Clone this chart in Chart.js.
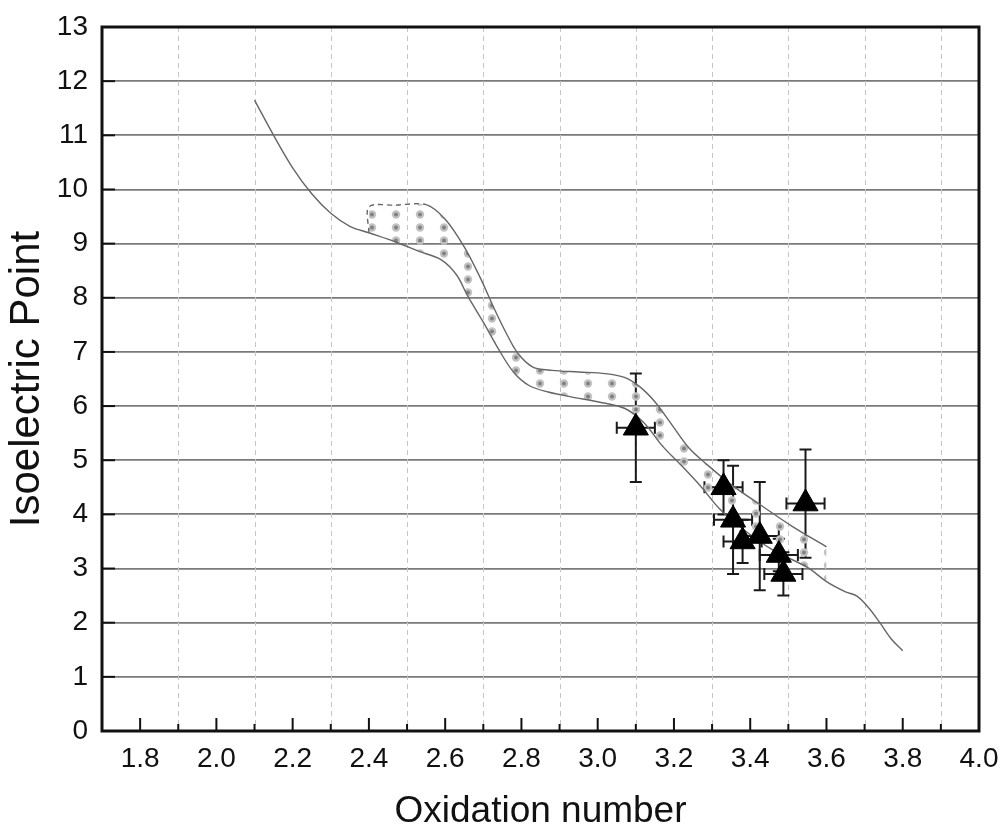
<!DOCTYPE html>
<html>
<head>
<meta charset="utf-8">
<script src="https://cdn.jsdelivr.net/npm/chart.js@4.4.1/dist/chart.umd.min.js"></script>
<style>
  html, body { margin: 0; padding: 0; background: #fff; }
  #wrap { width: 1002px; height: 830px; }
</style>
</head>
<body>
<div id="wrap"><canvas id="pzcChart"></canvas></div>
<script>
// main curve (single line, also the lower edge of the band)
const curveX = [2.10, 2.15, 2.20, 2.25, 2.30, 2.35, 2.40, 2.47, 2.53, 2.59, 2.63, 2.66, 2.70, 2.74, 2.78, 2.82, 2.87, 2.93, 3.00, 3.07, 3.12, 3.17, 3.22, 3.27, 3.32, 3.39, 3.46, 3.55, 3.60, 3.65, 3.68, 3.71, 3.74, 3.77, 3.80];
const curveY = [11.65, 11.0, 10.4, 9.92, 9.56, 9.32, 9.2, 9.03, 8.86, 8.70, 8.42, 8.02, 7.55, 7.05, 6.62, 6.38, 6.26, 6.17, 6.08, 5.96, 5.70, 5.26, 4.90, 4.52, 4.10, 3.68, 3.34, 3.02, 2.76, 2.57, 2.49, 2.28, 2.0, 1.70, 1.48];

// upper edge of the dotted band
const upperX = [2.40, 2.40, 2.47, 2.55, 2.60, 2.65, 2.69, 2.73, 2.76, 2.79, 2.83, 2.88, 2.95, 3.02, 3.07, 3.11, 3.15, 3.19, 3.24, 3.29, 3.35, 3.43, 3.51, 3.60];
const upperY = [9.2, 9.68, 9.71, 9.72, 9.45, 8.94, 8.40, 7.78, 7.35, 6.98, 6.72, 6.66, 6.63, 6.60, 6.53, 6.36, 6.08, 5.70, 5.22, 4.90, 4.55, 4.16, 3.78, 3.40];

// measured samples (triangles) with error bars
const sampleX = [3.10, 3.33, 3.355, 3.38, 3.425, 3.475, 3.487, 3.545];
const sampleY = [5.6, 4.5, 3.9, 3.5, 3.6, 3.25, 2.9, 4.2];
const sampleYErr = [1.0, 0.5, 1.0, 0.4, 1.0, 0.3, 0.4, 1.0];
const sampleXErr = [0.05, 0.05, 0.05, 0.05, 0.05, 0.05, 0.05, 0.05];

const xTickLabels = ['1.8', '2.0', '2.2', '2.4', '2.6', '2.8', '3.0', '3.2', '3.4', '3.6', '3.8', '4.0'];
const xMinorTicks = [1.9, 2.1, 2.3, 2.5, 2.7, 2.9, 3.1, 3.3, 3.5, 3.7, 3.9];
const yTicks = [1, 2, 3, 4, 5, 6, 7, 8, 9, 10, 11, 12];

const toPts = (xs, ys) => xs.map((x, i) => ({ x: x, y: ys[i] }));
const bandLower = toPts(curveX, curveY).filter(p => p.x >= 2.40 && p.x <= 3.60);

function dotPattern() {
    const c = document.createElement('canvas');
    c.width = 24; c.height = 13;
    const g = c.getContext('2d');
    g.fillStyle = '#c2c2c2';
    g.beginPath(); g.arc(12, 6.5, 4.2, 0, Math.PI * 2); g.fill();
    g.fillStyle = '#808080';
    g.beginPath(); g.arc(12, 6.5, 2.0, 0, Math.PI * 2); g.fill();
    return g.createPattern(c, 'repeat');
}

const framePlugin = {
    id: 'frame',
    beforeDatasetsDraw(chart) {
        const { ctx, chartArea: a, scales: { x, y } } = chart;
        ctx.save();
        // dashed vertical grid
        ctx.strokeStyle = '#c4c4c4';
        ctx.lineWidth = 1;
        ctx.setLineDash([5, 4]);
        xMinorTicks.forEach(v => {
            const px = Math.round(x.getPixelForValue(v)) + 0.5;
            ctx.beginPath(); ctx.moveTo(px, a.top); ctx.lineTo(px, a.bottom); ctx.stroke();
        });
        ctx.setLineDash([]);
        // error bars
        ctx.strokeStyle = '#1a1a1a';
        ctx.lineWidth = 2;
        sampleX.forEach((sx, i) => {
            const px = x.getPixelForValue(sx);
            const py = y.getPixelForValue(sampleY[i]);
            const t = y.getPixelForValue(sampleY[i] + sampleYErr[i]);
            const b = y.getPixelForValue(sampleY[i] - sampleYErr[i]);
            const l = x.getPixelForValue(sx - sampleXErr[i]);
            const r = x.getPixelForValue(sx + sampleXErr[i]);
            ctx.beginPath();
            ctx.moveTo(px, t); ctx.lineTo(px, b);
            ctx.moveTo(px - 6, t); ctx.lineTo(px + 6, t);
            ctx.moveTo(px - 6, b); ctx.lineTo(px + 6, b);
            ctx.moveTo(l, py); ctx.lineTo(r, py);
            ctx.moveTo(l, py - 6); ctx.lineTo(l, py + 6);
            ctx.moveTo(r, py - 6); ctx.lineTo(r, py + 6);
            ctx.stroke();
        });
        ctx.restore();
    },
    afterDatasetsDraw(chart) {
        const { ctx, chartArea: a, scales: { x, y } } = chart;
        ctx.save();
        ctx.strokeStyle = '#111';
        ctx.lineWidth = 2;
        xTickLabels.forEach(t => {
            const px = x.getPixelForValue(parseFloat(t));
            ctx.beginPath(); ctx.moveTo(px, a.bottom); ctx.lineTo(px, a.bottom - 13); ctx.stroke();
        });
        xMinorTicks.forEach(v => {
            const px = x.getPixelForValue(v);
            ctx.beginPath(); ctx.moveTo(px, a.bottom); ctx.lineTo(px, a.bottom - 7); ctx.stroke();
        });
        yTicks.forEach(v => {
            const py = y.getPixelForValue(v);
            ctx.beginPath(); ctx.moveTo(a.left, py); ctx.lineTo(a.left + 13, py); ctx.stroke();
        });
        ctx.lineWidth = 3;
        ctx.strokeRect(a.left, a.top, a.right - a.left, a.bottom - a.top);
        ctx.restore();
    }
};

const tickFont = { family: '"Liberation Sans", Arial, sans-serif', size: 28 };

new Chart(document.getElementById('pzcChart'), {
    type: 'scatter',
    data: {
        datasets: [
            {
                label: 'samples',
                data: toPts(sampleX, sampleY),
                pointStyle: 'triangle',
                pointRadius: 14.5,
                pointHoverRadius: 14.5,
                backgroundColor: '#000',
                borderColor: '#000',
                borderWidth: 1
            },
            {
                label: 'curve',
                data: toPts(curveX, curveY),
                showLine: true,
                pointRadius: 0,
                borderColor: '#666',
                borderWidth: 1.4,
                tension: 0.35,
                fill: false
            },
            {
                label: 'band upper',
                data: toPts(upperX, upperY),
                showLine: true,
                pointRadius: 0,
                borderColor: '#666',
                borderWidth: 1.4,
                tension: 0.3,
                backgroundColor: dotPattern(),
                fill: '+1',
                segment: {
                    borderDash: c => (c.p0.parsed.x < 2.5 ? [5, 4] : undefined)
                }
            },
            {
                label: 'band lower',
                data: bandLower,
                showLine: true,
                pointRadius: 0,
                borderWidth: 0,
                borderColor: 'rgba(0,0,0,0)',
                tension: 0.35,
                fill: false
            }
        ]
    },
    options: {
        responsive: true,
        maintainAspectRatio: false,
        animation: false,
        layout: { padding: { top: 27, right: 23, bottom: 0, left: 0 } },
        plugins: {
            legend: { display: false },
            tooltip: { enabled: false }
        },
        scales: {
            x: {
                type: 'linear',
                min: 1.7,
                max: 4.0,
                afterFit: s => { s.height = 99; s.paddingLeft = 0; s.paddingRight = 0; },
                afterBuildTicks: s => { s.ticks = xTickLabels.map(t => ({ value: parseFloat(t) })); },
                ticks: {
                    color: '#111',
                    font: tickFont,
                    padding: 11,
                    maxRotation: 0,
                    callback: v => v.toFixed(1)
                },
                grid: { display: false, drawTicks: false },
                border: { display: false },
                title: {
                    display: true,
                    text: 'Oxidation number',
                    color: '#111',
                    font: { family: '"Liberation Sans", Arial, sans-serif', size: 37, lineHeight: 1 },
                    padding: { top: 0, bottom: 0 }
                }
            },
            y: {
                min: 0,
                max: 13,
                afterFit: s => { s.width = 102; s.paddingTop = 0; s.paddingBottom = 0; },
                ticks: {
                    stepSize: 1,
                    color: '#111',
                    font: tickFont,
                    padding: 14
                },
                grid: { color: '#7a7a7a', lineWidth: 1.8, drawTicks: false },
                border: { display: false },
                title: {
                    display: true,
                    text: 'Isoelectric Point',
                    color: '#111',
                    font: { family: '"Liberation Sans", Arial, sans-serif', size: 42, lineHeight: 1 },
                    padding: { top: 6, bottom: 0 }
                }
            }
        }
    },
    plugins: [framePlugin]
});
</script>
</body>
</html>
